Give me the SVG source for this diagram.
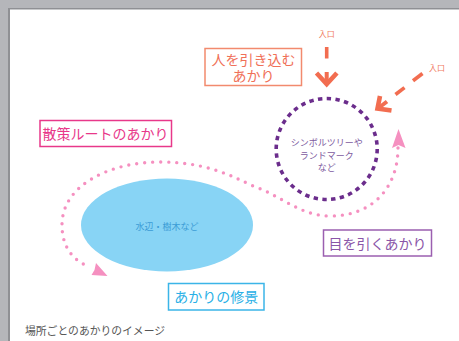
<svg xmlns="http://www.w3.org/2000/svg" width="459" height="341" viewBox="0 0 459 341">
<style>
text{font-family:"Noto Sans CJK JP","Noto Sans",sans-serif;}
.box{fill:#fff;stroke-width:1.5;}
.lbl{font-size:14px;text-anchor:middle;}
.ent{font-size:8px;fill:#f07a60;text-anchor:middle;}
.arr{fill:none;stroke:#f26d50;stroke-linecap:butt;}
.pk{fill:#f590c0;}
</style>
<rect x="0" y="0" width="459" height="341" fill="#b5b6ba"/>
<rect x="8" y="8" width="451" height="333" fill="#8f9094"/>
<rect x="10" y="9.5" width="449" height="331.5" fill="#ffffff"/>

<g id="water">
<ellipse cx="167" cy="225" rx="86" ry="46.5" fill="#88d4f5"/>
<text x="167" y="230" font-size="9" fill="#3b9cd6" text-anchor="middle">水辺・樹木など</text>
</g>

<g id="connectors">
<path d="M398,148 C398,185 375,216 330,216 C300,216 280,195 255,187 C225,172 200,162 160,162 C110,162 62,185 62,225 C62,250 76,262 90,267" fill="none" stroke="#f590c0" stroke-width="3.4" stroke-linecap="round" stroke-dasharray="0 8"/>
<polygon class="pk" points="398.5,129 405.5,148 398.5,145 392,148"/>
<polygon class="pk" points="96,263 107.5,276 91.5,275 94.5,270"/>
<line class="arr" x1="326.7" y1="47" x2="326.7" y2="58.5" stroke-width="3.6"/>
<polyline class="arr" points="316.5,73 326.7,84 336.9,73" stroke-width="4.6"/>
<line class="arr" x1="326.7" y1="72" x2="326.7" y2="83" stroke-width="4"/>
<line class="arr" x1="422.5" y1="73.5" x2="413" y2="80.8" stroke-width="3.6"/>
<line class="arr" x1="404.5" y1="87.6" x2="395.5" y2="94.5" stroke-width="3.6"/>
<polyline class="arr" points="380,96 377.5,108.5 391.5,110.5" stroke-width="4.6"/>
<line class="arr" x1="387" y1="101.5" x2="378.5" y2="108" stroke-width="4"/>
<text class="ent" x="326.7" y="37">入口</text>
<text class="ent" x="437" y="71">入口</text>
</g>

<g id="symbol">
<circle cx="326.7" cy="149" r="50.5" fill="none" stroke="#6b2d8c" stroke-width="3.6" stroke-dasharray="4.4 4.4"/>
<text x="326.7" y="146" font-size="9" fill="#7d5a9e" text-anchor="middle">シンボルツリーや</text>
<text x="326.7" y="158.5" font-size="9" fill="#7d5a9e" text-anchor="middle">ランドマーク</text>
<text x="326.7" y="171" font-size="9" fill="#7d5a9e" text-anchor="middle">など</text>
</g>

<g id="invite">
<rect class="box" x="205" y="48.5" width="96.5" height="37" stroke="#f28a6e"/>
<text class="lbl" x="253.5" y="65" fill="#f07058">人を引き込む</text>
<text class="lbl" x="253.5" y="80.5" fill="#f07058">あかり</text>
</g>

<g id="route">
<rect class="box" x="40" y="120.5" width="131.5" height="26" stroke="#e8388a"/>
<text class="lbl" x="105.5" y="139" fill="#e8388a">散策ルートのあかり</text>
</g>

<g id="eye">
<rect class="box" x="323.5" y="230" width="108" height="26" stroke="#9b5fb0"/>
<text class="lbl" x="377.5" y="248.5" fill="#8a55a8" font-size="13.5">目を引くあかり</text>
</g>

<g id="scenery">
<rect class="box" x="168.5" y="283.5" width="95.5" height="26.5" stroke="#3bb5e8"/>
<text class="lbl" x="216.3" y="302" fill="#29b0e6">あかりの修景</text>
</g>

<text x="25" y="334.5" font-size="10.8" fill="#555">場所ごとのあかりのイメージ</text>
</svg>
